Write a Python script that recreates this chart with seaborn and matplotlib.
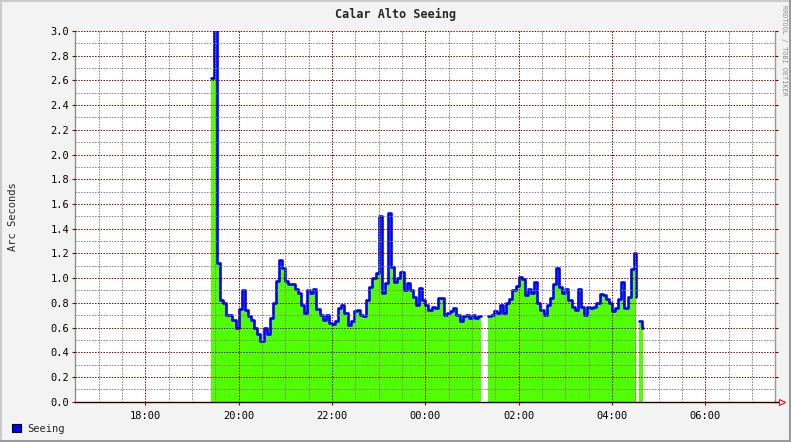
import numpy as np
import pandas as pd
import matplotlib
matplotlib.use("Agg")
import matplotlib.pyplot as plt
import matplotlib.dates as mdates
from matplotlib.lines import Line2D
from matplotlib.patches import Rectangle
from matplotlib.ticker import MultipleLocator, FormatStrFormatter
import seaborn as sns

### Data: seeing in arc seconds, one sample every 4 minutes from 19:24, one row per hour
START = "2010-01-01 19:24"
STEP_MIN = 4
seeing_19 = [2.62, 3.10, 1.12, 0.82, 0.80, 0.70, 0.70, 0.66, 0.60, 0.75, 0.90, 0.74, 0.69, 0.66, 0.60]
seeing_20 = [0.55, 0.49, 0.60, 0.55, 0.68, 0.80, 0.98, 1.15, 1.08, 0.98, 0.95, 0.95, 0.91, 0.88, 0.78]
seeing_21 = [0.72, 0.90, 0.88, 0.91, 0.75, 0.70, 0.66, 0.70, 0.64, 0.63, 0.65, 0.76, 0.78, 0.72, 0.62]
seeing_22 = [0.65, 0.73, 0.74, 0.70, 0.69, 0.82, 0.93, 1.00, 1.04, 1.50, 0.88, 0.96, 1.53, 1.09, 0.97]
seeing_23 = [1.00, 1.05, 0.90, 0.96, 0.90, 0.85, 0.78, 0.92, 0.82, 0.78, 0.74, 0.77, 0.76, 0.84, 0.84]
seeing_00 = [0.70, 0.72, 0.73, 0.76, 0.70, 0.65, 0.69, 0.70, 0.68, 0.70, 0.68, 0.69, 0.69, np.nan, 0.69]
seeing_01 = [0.70, 0.73, 0.72, 0.78, 0.72, 0.80, 0.83, 0.90, 0.94, 1.01, 0.99, 0.86, 0.91, 0.88, 0.97]
seeing_02 = [0.80, 0.74, 0.70, 0.78, 0.84, 0.95, 1.08, 0.93, 0.88, 0.91, 0.82, 0.77, 0.74, 0.91, 0.77]
seeing_03 = [0.70, 0.77, 0.76, 0.77, 0.80, 0.87, 0.86, 0.83, 0.80, 0.73, 0.76, 0.83, 0.97, 0.76, 0.85]
seeing_04 = [1.07, 1.20, 0.85, np.nan, 0.65, 0.60, 0.60]
# the 04:xx row has 2-minute samples around the short gap
times_04 = ["04:24", "04:28", "04:31", "04:33", "04:35", "04:38", "04:40"]

X_MIN = "2010-01-01 16:30"
X_MAX = "2010-01-02 07:30"
Y_MAX = 3.0

GREEN = "#50ff00"
BLUE = "#0000ff"
MAJOR_GRID = "#800000"
MINOR_GRID = "#808080"
BG = "#f3f3f3"
MONO = "DejaVu Sans Mono"

seeing_main = (seeing_19 + seeing_20 + seeing_21 + seeing_22 + seeing_23
               + seeing_00 + seeing_01 + seeing_02 + seeing_03)
times_main = pd.date_range(START, periods=len(seeing_main), freq=f"{STEP_MIN}min")
times_tail = pd.to_datetime(["2010-01-02 " + t for t in times_04])
df = pd.DataFrame({"time": list(times_main) + list(times_tail),
                   "seeing": np.array(seeing_main + seeing_04, dtype=float)})
df["segment"] = df["seeing"].isna().cumsum()

sns.set_style("white")
plt.rcParams["font.family"] = [MONO, "DejaVu Sans"]

W, H = 791, 442
fig = plt.figure(figsize=(W / 100, H / 100), dpi=100, facecolor=BG)
ax = fig.add_axes([75.3 / W, 1 - 401.7 / H, 700 / W, 370.7 / H])
ax.set_facecolor("white")

## Area + line (stepped like rrdtool)
ax.fill_between(df["time"], 0, df["seeing"], color=GREEN, lw=0, step="post", zorder=1)
sns.lineplot(data=df.dropna(), x="time", y="seeing", units="segment", estimator=None,
             color=BLUE, lw=1.9, drawstyle="steps-post", legend=False, ax=ax, zorder=2)

## Axes and grid
ax.set_xlim(pd.Timestamp(X_MIN), pd.Timestamp(X_MAX))
ax.set_ylim(0, Y_MAX)
ax.xaxis.set_major_locator(mdates.HourLocator(byhour=range(0, 24, 2)))
ax.xaxis.set_minor_locator(mdates.MinuteLocator(byminute=[0, 30]))
ax.xaxis.set_major_formatter(mdates.DateFormatter("%H:%M"))
ax.yaxis.set_major_locator(MultipleLocator(0.2))
ax.yaxis.set_minor_locator(MultipleLocator(0.1))
ax.yaxis.set_major_formatter(FormatStrFormatter("%.1f"))

ax.set_axisbelow(False)
ax.grid(which="minor", color=MINOR_GRID, ls=(0, (1.4, 1.4)), lw=0.72)
ax.grid(which="major", color=MAJOR_GRID, ls=(0, (1.4, 1.4)), lw=0.72)

ax.tick_params(which="major", direction="out", length=2.5, width=0.8, color=MAJOR_GRID,
               labelsize=7.5, labelcolor="black", pad=2, right=True, left=True, bottom=True)
ax.tick_params(axis="x", which="major", pad=4)
ax.tick_params(which="minor", length=0)
ax.set_xlabel(""); ax.set_ylabel("")

for side in ["left", "right"]:
    ax.spines[side].set_color("#9a9a9a")
    ax.spines[side].set_linewidth(1.0)
ax.spines["top"].set_visible(False)
ax.spines["bottom"].set_color("#2a0000")
ax.spines["bottom"].set_linewidth(1.0)

# x axis arrow
ax.plot([1.0, 1.007], [0, 0], transform=ax.transAxes, color="#2a0000", lw=1.0, clip_on=False, zorder=5)
ax.plot([1.009], [0], marker=">", ms=5, mfc="white", mec="red", mew=0.8,
        transform=ax.transAxes, clip_on=False, zorder=6)

## Texts
fig.text(0.5, 1 - 14 / H, "Calar Alto Seeing", ha="center", va="center",
         fontsize=8.5, fontweight="bold", family=MONO)
fig.text(13 / W, 1 - 217 / H, "Arc Seconds", rotation=90, ha="center", va="center",
         fontsize=7.5, family=MONO)
fig.text(784 / W, 1 - 5 / H, "RRDTOOL / TOBI OETIKER", rotation=270, ha="center", va="top",
         fontsize=4.9, color="#8c8c8c", family=MONO)

# legend
fig.patches.append(Rectangle((12 / W, 1 - 432.3 / H), 8.7 / W, 8.3 / H, transform=fig.transFigure,
                             facecolor=BLUE, edgecolor="black", lw=0.8))
fig.text(27 / W, 1 - 428.5 / H, "Seeing", ha="left", va="center", fontsize=7.5, family=MONO)

# 3d-ish frame around the image
fig.lines.append(Line2D([0, 1], [1 - 1 / H, 1 - 1 / H], transform=fig.transFigure, color="#cbcbcb", lw=1.5))
fig.lines.append(Line2D([1 / W, 1 / W], [0, 1], transform=fig.transFigure, color="#cbcbcb", lw=1.5))
fig.lines.append(Line2D([0, 1], [1 / H, 1 / H], transform=fig.transFigure, color="#999999", lw=1.5))
fig.lines.append(Line2D([1 - 1 / W, 1 - 1 / W], [0, 1], transform=fig.transFigure, color="#999999", lw=1.5))

fig.savefig("out.png", dpi=100, facecolor=BG)
